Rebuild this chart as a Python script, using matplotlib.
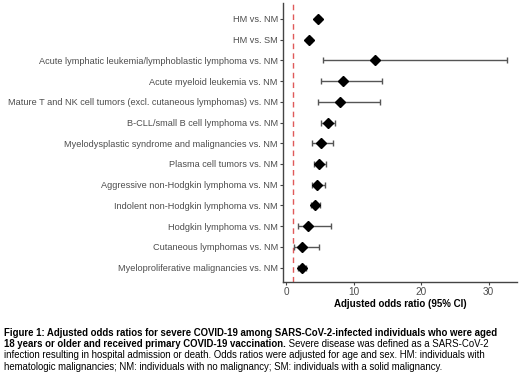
import matplotlib
matplotlib.use("Agg")
import matplotlib.pyplot as plt

plt.rcParams['font.family'] = ['Liberation Sans', 'DejaVu Sans']

labels = [
    "HM vs. NM",
    "HM vs. SM",
    "Acute lymphatic leukemia/lymphoblastic lymphoma vs. NM",
    "Acute myeloid leukemia vs. NM",
    "Mature T and NK cell tumors (excl. cutaneous lymphomas) vs. NM",
    "B-CLL/small B cell lymphoma vs. NM",
    "Myelodysplastic syndrome and malignancies vs. NM",
    "Plasma cell tumors vs. NM",
    "Aggressive non-Hodgkin lymphoma vs. NM",
    "Indolent non-Hodgkin lymphoma vs. NM",
    "Hodgkin lymphoma vs. NM",
    "Cutaneous lymphomas vs. NM",
    "Myeloproliferative malignancies vs. NM",
]
odds = [4.7, 3.4, 13.2, 8.5, 8.0, 6.2, 5.1, 4.9, 4.6, 4.3, 3.3, 2.4, 2.3]
ci_low = [4.4, 3.1, 5.5, 5.1, 4.7, 5.2, 3.8, 4.1, 3.9, 3.7, 1.7, 1.2, 1.7]
ci_high = [5.0, 3.7, 32.7, 14.2, 13.9, 7.3, 7.0, 5.9, 5.7, 5.0, 6.6, 4.9, 3.0]
xticks = [0, 10, 20, 30]

fig = plt.figure(figsize=(5.2, 3.76), dpi=100)
ax = fig.add_axes([0.545, 0.251, 0.449, 0.741])

ypos = list(range(len(labels)))
err_lo = [o - l for o, l in zip(odds, ci_low)]
err_hi = [h - o for o, h in zip(odds, ci_high)]

ax.axvline(1, color='#e05a5a', linestyle=(0, (4, 3)), linewidth=1.0, zorder=1)
ax.errorbar(odds, ypos, xerr=[err_lo, err_hi], fmt='none', ecolor='#555555',
            elinewidth=1.0, capsize=2.2, capthick=1.0, zorder=2)
ax.plot(odds, ypos, linestyle='none', marker='D', markersize=5.5,
        color='black', zorder=3)

ax.set_ylim(len(labels) - 1 + 0.68, -0.77)
ax.set_xlim(-0.4, 34.2)
ax.set_yticks(ypos)
ax.set_yticklabels(labels)
ax.set_xticks(xticks)

for side in ['top', 'right']:
    ax.spines[side].set_visible(False)
for side in ['left', 'bottom']:
    ax.spines[side].set_color('#444444')
    ax.spines[side].set_linewidth(1.0)
ax.tick_params(axis='both', colors='#444444', labelcolor='#4d4d4d',
               length=2.5, width=0.8, pad=1.5)
ax.tick_params(axis='y', labelsize=6.6)
ax.tick_params(axis='x', labelsize=7.2)
ax.set_xlabel("Adjusted odds ratio (95% CI)", fontsize=7.0, fontweight='bold',
              labelpad=1.5)

fs = 6.9
x0 = 0.008
y_lines = [1 - 335.5 / 376, 1 - 347 / 376, 1 - 358.5 / 376, 1 - 370 / 376]
fig.text(x0, y_lines[0],
         "Figure 1: Adjusted odds ratios for severe COVID-19 among "
         "SARS-CoV-2-infected individuals who were aged",
         fontsize=fs, fontweight='bold', va='baseline')
t2 = fig.text(x0, y_lines[1],
              "18 years or older and received primary COVID-19 vaccination.",
              fontsize=fs, fontweight='bold', va='baseline')
t2b = fig.text(x0, y_lines[1], " Severe disease was defined as a SARS-CoV-2",
               fontsize=fs, va='baseline')
fig.text(x0, y_lines[2],
         "infection resulting in hospital admission or death. Odds ratios were "
         "adjusted for age and sex. HM: individuals with",
         fontsize=fs, va='baseline')
fig.text(x0, y_lines[3],
         "hematologic malignancies; NM: individuals with no malignancy; "
         "SM: individuals with a solid malignancy.",
         fontsize=fs, va='baseline')

# put the normal-weight continuation right after the bold part
fig.canvas.draw()
bb = t2.get_window_extent(renderer=fig.canvas.get_renderer())
t2b.set_position((bb.x1 / fig.bbox.width, y_lines[1]))

fig.savefig("out.png", dpi=100)
